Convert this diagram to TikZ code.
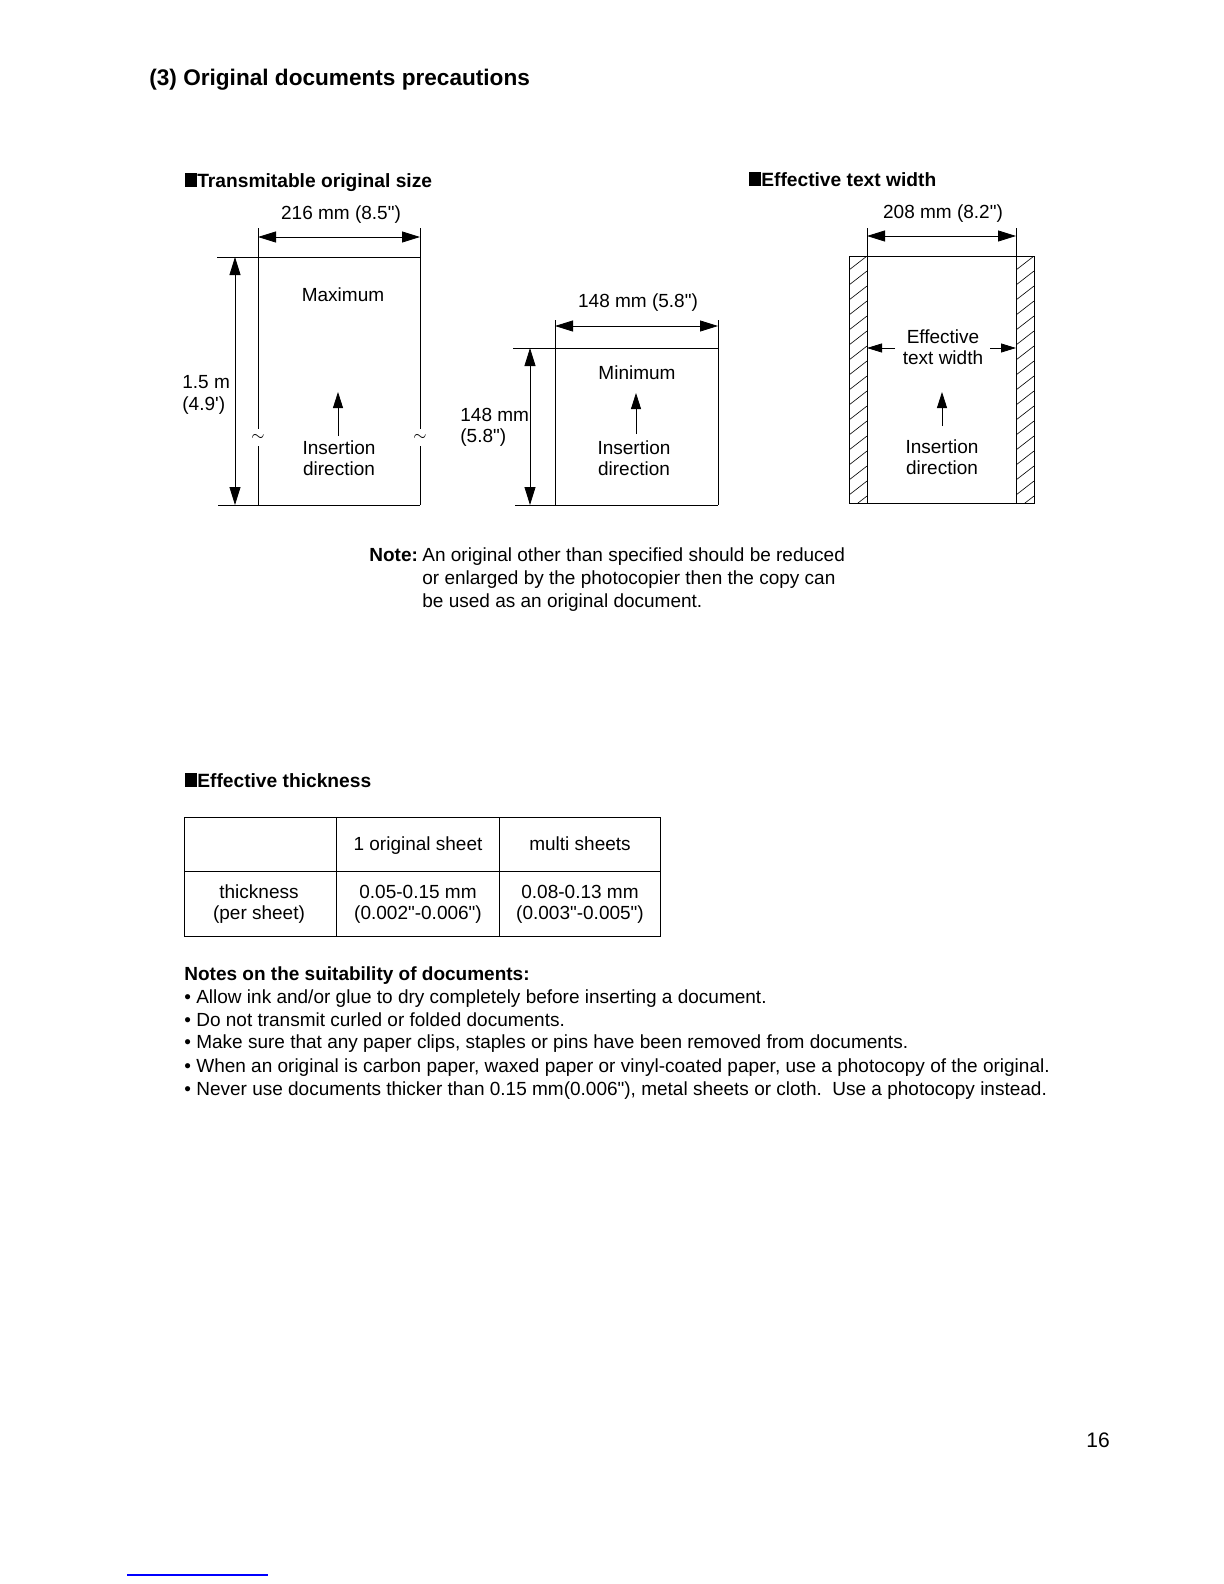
\documentclass[tikz,border=0pt]{standalone}
\usepackage{fontspec}
\setmainfont[Ligatures=TeXOff]{Liberation Sans}
\usetikzlibrary{arrows.meta,positioning}
\newcommand{\blk}{\rule{0.62em}{0.72em}}
\tikzset{
  lbl/.style={font=\fontsize{9.5}{10.6}\selectfont,inner sep=0pt,align=center},
  heading/.style={font=\bfseries\fontsize{9.6}{11}\selectfont,inner sep=0pt,anchor=base west},
  bodytext/.style={font=\fontsize{9.5}{11}\selectfont,inner sep=0pt,anchor=base west},
  outline/.style={line width=0.5pt},
  dimline/.style={{Triangle[length=9pt,width=5.5pt]}-{Triangle[length=9pt,width=5.5pt]},line width=0.4pt},
  insarrow/.style={-{Triangle[length=8pt,width=5pt]},line width=0.4pt},
  widtharrow/.style={-{Triangle[length=7.5pt,width=4.5pt]},line width=0.4pt},
  hatchline/.style={line width=0.3pt},
  breakmark/.style={font=\fontsize{8}{8}\selectfont,inner sep=0pt}
}

\begin{document}
\begin{tikzpicture}[x=0.5pt,y=-0.5pt]
  \useasboundingbox (0,0) rectangle (1224,1584);

  % title
  \node[heading,font=\bfseries\fontsize{11.3}{13}\selectfont] (title) at (149,86) {(3) Original documents precautions};

  % ---- transmitable original size ----
  \node[heading] (headsize) at (185,187) {\blk Transmitable original size};
  \node[lbl] (wmax) at (341,215) {216 mm (8.5")};
  \coordinate (maxTR) at (420,257);
  \coordinate (maxBL) at (258,505);
  \coordinate (maxBR) at (420,505);
  \draw[outline] (217,257) -- (maxTR);
  \draw[outline] (218,505) -- (maxBR);
  \draw[outline] (258,228) -- (258,429) (258,446) -- (maxBL);
  \draw[outline] (420,228) -- (420,429) (420,446) -- (maxBR);
  \node[breakmark] (brkl) at (258,437) {$\sim$};
  \node[breakmark] (brkr) at (420,437) {$\sim$};
  \draw[dimline] (258,237) -- (420,237);
  \draw[dimline] (235,257) -- (235,505);
  \node[lbl,align=left,anchor=west] (hmax) at (182,395) {1.5 m\\(4.9')};
  \node[lbl] (maxlbl) at (343,295) {Maximum};
  \node[lbl] (ins1) at (339,458) {Insertion\\direction};
  \coordinate (tip1) at (338,392);
  \draw[insarrow] (338,436) -- (tip1);

  % ---- minimum ----
  \node[lbl] (wmin) at (638,303) {148 mm (5.8")};
  \coordinate (minTR) at (718,348);
  \coordinate (minBL) at (555,505);
  \coordinate (minBR) at (718,505);
  \draw[outline] (513,348) -- (minTR);
  \draw[outline] (515,505) -- (minBR);
  \draw[outline] (555,320) -- (minBL);
  \draw[outline] (718,320) -- (minBR);
  \draw[dimline] (555,326) -- (718,326);
  \draw[dimline] (530,348) -- (530,505);
  \node[lbl,align=left,anchor=west] (hmin) at (460,427) {148 mm\\(5.8")};
  \node[lbl] (minlbl) at (637,373) {Minimum};
  \node[lbl] (ins2) at (634,458) {Insertion\\direction};
  \coordinate (tip2) at (636,393);
  \draw[insarrow] (636,434) -- (tip2);

  % ---- effective text width ----
  \node[heading] (headwidth) at (749,186) {\blk Effective text width};
  \node[lbl] (weff) at (943,214) {208 mm (8.2")};
  \begin{scope}
    \clip (849,256) rectangle (867,503);
    \foreach \k in {0,...,18}
      \draw[hatchline] (849,{510-15*\k}) -- ++(18,-14);
  \end{scope}
  \begin{scope}
    \clip (1016,256) rectangle (1034,503);
    \foreach \k in {0,...,18}
      \draw[hatchline] (1016,{510-15*\k}) -- ++(18,-14);
  \end{scope}
  \draw[outline] (849,256) rectangle (1034,503);
  \draw[outline] (867,228) -- (867,503);
  \draw[outline] (1016,228) -- (1016,503);
  \draw[dimline] (867,236) -- (1016,236);
  \node[lbl] (efflbl) at (943,347) {Effective\\text width};
  \coordinate (effL) at (867,348);
  \coordinate (effR) at (1016,348);
  \draw[widtharrow] (895,348) -- (effL);
  \draw[widtharrow] (990,348) -- (effR);
  \node[lbl] (ins3) at (942,457) {Insertion\\direction};
  \coordinate (tip3) at (942,392);
  \draw[insarrow] (942,426) -- (tip3);

  % note
  \node[bodytext] (notehead) at (369,561) {\textbf{Note:}};
  \node[bodytext] (note1) at (422,561) {An original other than specified should be reduced};
  \node[bodytext] (note2) at (422,584) {or enlarged by the photocopier then the copy can};
  \node[bodytext] (note3) at (422,607) {be used as an original document.};

  % ---- effective thickness ----
  \node[heading] (headthick) at (185,787) {\blk Effective thickness};
  \draw[outline] (184,817) rectangle (660,936);
  \draw[outline] (184,871) -- (660,871);
  \draw[outline] (336,817) -- (336,936);
  \draw[outline] (499,817) -- (499,936);
  \node[lbl,anchor=base] (colone) at (418,850) {1 original sheet};
  \node[lbl,anchor=base] (colmulti) at (580,850) {multi sheets};
  \node[lbl] (rowthick) at (259,904) {thickness\\(per sheet)};
  \node[lbl] (valone) at (418,904) {0.05-0.15 mm\\(0.002"-0.006")};
  \node[lbl] (valmulti) at (580,904) {0.08-0.13 mm\\(0.003"-0.005")};

  % notes on suitability
  \node[heading,font=\bfseries\fontsize{9.5}{11}\selectfont] (suithead) at (184,980) {Notes on the suitability of documents:};
  \node[bodytext] (b1) at (184,1003) {\textbullet\ Allow ink and/or glue to dry completely before inserting a document.};
  \node[bodytext] (b2) at (184,1026) {\textbullet\ Do not transmit curled or folded documents.};
  \node[bodytext] (b3) at (184,1048) {\textbullet\ Make sure that any paper clips, staples or pins have been removed from documents.};
  \node[bodytext] (b4) at (184,1072) {\textbullet\ When an original is carbon paper, waxed paper or vinyl-coated paper, use a photocopy of the original.};
  \node[bodytext] (b5) at (184,1095) {\textbullet\ Never use documents thicker than 0.15 mm(0.006"), metal sheets or cloth.\ \ Use a photocopy instead.};

  % page number
  \node[bodytext,font=\fontsize{10.5}{12}\selectfont] (pagenum) at (1086,1447) {16};
  \draw[blue,line width=0.8pt] (127,1575) -- (268,1575);
\end{tikzpicture}
\end{document}
